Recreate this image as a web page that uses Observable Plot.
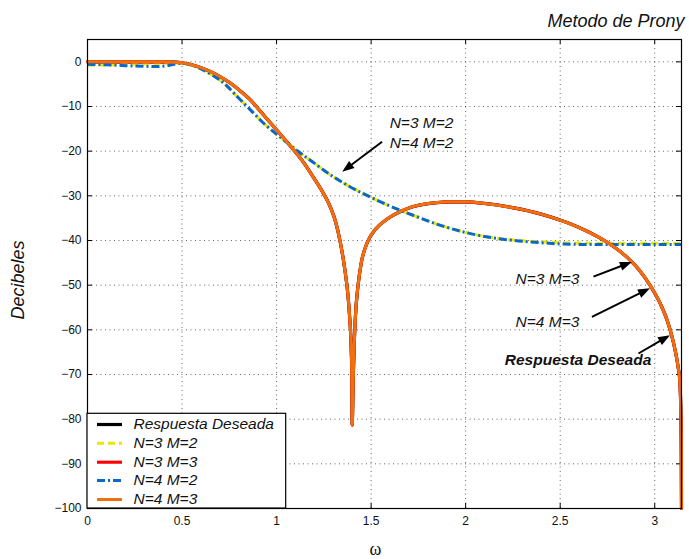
<!DOCTYPE html>
<html>
<head>
<meta charset="utf-8">
<script src="https://cdn.jsdelivr.net/npm/d3@7"></script>
<script src="https://cdn.jsdelivr.net/npm/@observablehq/plot@0.6"></script>
<style>
  html, body { margin: 0; padding: 0; background: #fff; }
</style>
</head>
<body>
<div id="chart"></div>
<script>
// ---------- data ----------
const title = "Metodo de Prony";
const xLabel = "ω";
const yLabel = "Decibeles";
const xTicks = [0, 0.5, 1, 1.5, 2, 2.5, 3];
const yTicks = [0, -10, -20, -30, -40, -50, -60, -70, -80, -90, -100];

// Desired response (also N=3 M=3 and N=4 M=3, which overlap it)
const wDesired = [0, 0.1, 0.2, 0.3, 0.4, 0.44, 0.5, 0.546, 0.6, 0.651, 0.705, 0.757, 0.81, 0.863, 0.915, 0.968, 1.02, 1.074, 1.144, 1.197, 1.24, 1.268, 1.29, 1.312, 1.338, 1.361, 1.377, 1.387, 1.395, 1.398, 1.4, 1.405, 1.41, 1.417, 1.43, 1.447, 1.479, 1.523, 1.585, 1.655, 1.708, 1.778, 1.85, 1.919, 1.99, 2.1, 2.255, 2.4, 2.51, 2.6, 2.7, 2.78, 2.86, 2.92, 2.978, 3.03, 3.066, 3.09, 3.11, 3.124, 3.133, 3.138, 3.1405, 3.1416];
const dbDesired = [0, 0, 0, 0, 0, -0.05, -0.2, -0.6, -1.3, -2.2, -3.4, -4.8, -6.6, -8.6, -11.1, -13.7, -16.2, -18.9, -22.6, -26.0, -28.9, -31.0, -33.1, -35.8, -40.6, -46.5, -52.0, -57.5, -64.5, -70.5, -81.3, -71.5, -64.0, -57.0, -50.4, -45.2, -40.5, -37.5, -35.2, -33.5, -32.6, -31.9, -31.5, -31.35, -31.35, -31.7, -32.7, -34.1, -35.6, -37.1, -39.2, -41.3, -44.0, -46.7, -50.2, -54.2, -57.9, -61.3, -65.0, -68.4, -71.6, -78.4, -87.0, -100];
const dbN3M3 = dbDesired;
const dbN4M3 = dbDesired;

// N=3 M=2
const wN3M2 = [0, 0.1, 0.2, 0.3, 0.4, 0.46, 0.5, 0.55, 0.616, 0.67, 0.722, 0.792, 0.863, 0.933, 1.021, 1.109, 1.197, 1.285, 1.373, 1.497, 1.6, 1.725, 1.867, 1.99, 2.1, 2.254, 2.4, 2.518, 2.7, 2.9, 3.1416];
const dbN3M2 = [-0.75, -0.7, -0.6, -0.45, -0.3, -0.25, -0.35, -0.8, -1.9, -3.2, -4.8, -7.8, -10.8, -13.8, -16.9, -19.9, -22.6, -25.3, -27.6, -30.3, -32.3, -34.4, -36.6, -38.1, -39.1, -39.9, -40.3, -40.5, -40.6, -40.6, -40.6];

// N=4 M=2
const wN4M2 = [0, 0.1, 0.2, 0.3, 0.37, 0.43, 0.475, 0.5, 0.55, 0.616, 0.67, 0.722, 0.792, 0.863, 0.933, 1.021, 1.109, 1.197, 1.285, 1.373, 1.497, 1.6, 1.725, 1.867, 1.99, 2.1, 2.254, 2.4, 2.518, 2.7, 2.9, 3.1416];
const dbN4M2 = [-0.55, -0.65, -0.85, -1.0, -1.05, -0.8, -0.4, -0.3, -0.75, -1.9, -3.2, -4.8, -7.8, -10.8, -13.8, -16.9, -19.9, -22.6, -25.3, -27.6, -30.3, -32.3, -34.4, -36.6, -38.1, -39.1, -40.0, -40.5, -40.8, -40.9, -40.9, -40.9];

const legendLabels = ["Respuesta Deseada", "N=3 M=2", "N=3 M=3", "N=4 M=2", "N=4 M=3"];

// annotations (data units): arrow start -> arrow tip
const arrowX1 = [1.558, 2.676, 2.668, 2.914];
const arrowY1 = [-17.9, -48.1, -57.1, -65.3];
const arrowX2 = [1.347, 2.879, 2.975, 3.081];
const arrowY2 = [-24.6, -44.8, -50.7, -61.2];
// annotation texts (start x, baseline y in data units)
const noteText = ["N=3 M=2", "N=4 M=2", "N=3 M=3", "N=4 M=3", "Respuesta Deseada"];
const noteX = [1.598, 1.598, 2.264, 2.264, 2.207];
const noteY = [-14.9, -19.2, -49.85, -59.45, -67.95];
const noteBold = [false, false, false, false, true];

// ---------- layout & style ----------
const W = 689, H = 559, ML = 87, MR = 8, MT = 39, MB = 51;
const XMAX = Math.PI, YMIN = -100, YMAX = 5;
const Sx = (W - ML - MR) / (XMAX - 0);
const Sy = (H - MT - MB) / (YMAX - YMIN);
const FONT = "'Liberation Sans', Arial, Helvetica, sans-serif";

const styles = [
  {stroke: "#000000", strokeWidth: 3.2, dash: null},
  {stroke: "#e8e800", strokeWidth: 3, dash: "7,4"},
  {stroke: "#ff0000", strokeWidth: 3.1, dash: null},
  {stroke: "#0a68cc", strokeWidth: 3, dash: "8,3,2,3"},
  {stroke: "#f07010", strokeWidth: 3, dash: null}
];

const toPts = (ws, ds) => ws.map((w, i) => ({w, db: ds[i]}));
const series = [
  toPts(wDesired, dbDesired),
  toPts(wN3M2, dbN3M2),
  toPts(wDesired, dbN3M3),
  toPts(wN4M2, dbN4M2),
  toPts(wDesired, dbN4M3)
];

// arrow geometry (converted between px and data units using our own scale factors)
const HEADLEN = 12, HEADW = 9;
const arrows = arrowX1.map((x1, i) => {
  const x2 = arrowX2[i], y1 = arrowY1[i], y2 = arrowY2[i];
  const dxp = (x2 - x1) * Sx, dyp = -(y2 - y1) * Sy;
  const len = Math.hypot(dxp, dyp);
  const ux = dxp / len, uy = dyp / len;
  const back = HEADLEN - 2;
  return {
    x1, y1, x2, y2,
    sx2: x2 - ux * back / Sx,
    sy2: y2 + uy * back / Sy,
    angle: Math.atan2(ux, -uy) * 180 / Math.PI
  };
});
const headSymbol = {
  draw(context) {
    context.moveTo(0, 0);
    context.lineTo(-HEADW / 2, HEADLEN);
    context.lineTo(HEADW / 2, HEADLEN);
    context.closePath();
  }
};

const tickLenX = 5 / Sx, tickLenY = 5 / Sy;

const marks = [];
// grid
marks.push(Plot.ruleX(xTicks.filter(d => d > 0), {y1: YMIN, y2: YMAX, stroke: "#000", strokeOpacity: 0.6, strokeDasharray: "1,3.5", strokeWidth: 1}));
marks.push(Plot.ruleY(yTicks, {x1: 0, x2: XMAX, stroke: "#000", strokeOpacity: 0.6, strokeDasharray: "1,3.5", strokeWidth: 1}));
// inward ticks on all four sides
marks.push(Plot.ruleX(xTicks, {y1: YMIN, y2: YMIN + tickLenY, stroke: "#000"}));
marks.push(Plot.ruleX(xTicks, {y1: YMAX, y2: YMAX - tickLenY, stroke: "#000"}));
marks.push(Plot.ruleY(yTicks, {x1: 0, x2: tickLenX, stroke: "#000"}));
marks.push(Plot.ruleY(yTicks, {x1: XMAX, x2: XMAX - tickLenX, stroke: "#000"}));
// axes text
marks.push(Plot.axisX({ticks: xTicks, tickSize: 0, tickPadding: 8, tickFormat: d => String(d), fontSize: 12, label: null}));
marks.push(Plot.axisY({ticks: yTicks, tickSize: 0, tickPadding: 6, fontSize: 12, label: null}));

// curves
series.forEach((pts, i) => {
  const s = styles[i];
  marks.push(Plot.line(pts, {
    x: "w", y: "db", stroke: s.stroke, strokeWidth: s.strokeWidth,
    strokeDasharray: s.dash || undefined, curve: "monotone-x",
    strokeLinejoin: "round", strokeLinecap: s.dash ? "butt" : "round"
  }));
});

// frame
marks.push(Plot.frame({stroke: "#000", strokeWidth: 1.2}));

// annotations: arrows
marks.push(Plot.link(arrows, {x1: "x1", y1: "y1", x2: "sx2", y2: "sy2", stroke: "#000", strokeWidth: 2}));
marks.push(Plot.dot(arrows, {x: "x2", y: "y2", rotate: "angle", symbol: headSymbol, fill: "#000", stroke: "none", r: 5}));
// annotation texts
noteText.forEach((t, i) => {
  marks.push(Plot.text([t], {
    x: noteX[i], y: noteY[i], text: d => d, textAnchor: "start", lineAnchor: "bottom",
    fontSize: 15.5, fontStyle: "italic", fontWeight: noteBold[i] ? "bold" : "normal", fill: "#111"
  }));
});

// legend (inside the axes, lower-left)
const legTop = 5 - (413.3 - MT) / Sy;
const legRight = (285.7 - ML) / Sx;
marks.push(Plot.rect([0], {x1: 0, x2: legRight, y1: YMIN, y2: legTop, fill: "#fff", stroke: "#000", strokeWidth: 1.2}));
const legRowsPx = [424, 442.7, 461.7, 480, 499];
legendLabels.forEach((lab, i) => {
  const s = styles[i];
  const yv = YMAX - (legRowsPx[i] - MT) / Sy;
  marks.push(Plot.ruleY([yv], {x1: (97 - ML) / Sx, x2: (122 - ML) / Sx, stroke: s.stroke, strokeWidth: s.strokeWidth, strokeDasharray: s.dash || undefined}));
  marks.push(Plot.text([lab], {x: (133 - ML) / Sx, y: yv, text: d => d, textAnchor: "start", fontSize: 15.5, fontStyle: "italic", fill: "#111"}));
});

// title & axis labels
marks.push(Plot.text([title], {frameAnchor: "top-right", text: d => d, textAnchor: "end", lineAnchor: "bottom", dx: 3, dy: -12.3, fontSize: 18, fontStyle: "italic", fill: "#111"}));
marks.push(Plot.text([yLabel], {frameAnchor: "left", text: d => d, textAnchor: "middle", lineAnchor: "middle", rotate: -90, dx: -69, dy: 6, fontSize: 18, fontStyle: "italic", fill: "#111"}));
marks.push(Plot.text([xLabel], {frameAnchor: "bottom", text: d => d, textAnchor: "middle", lineAnchor: "bottom", dx: -9, dy: 46, fontSize: 18, fontFamily: "'Liberation Serif', 'DejaVu Serif', serif", fill: "#111"}));

const chart = Plot.plot({
  width: W, height: H,
  marginLeft: ML, marginRight: MR, marginTop: MT, marginBottom: MB,
  x: {domain: [0, XMAX]},
  y: {domain: [YMIN, YMAX]},
  style: {fontFamily: FONT, fontSize: "12px", color: "#111", background: "#fff"},
  marks
});
document.getElementById("chart").appendChild(chart);
</script>
</body>
</html>
